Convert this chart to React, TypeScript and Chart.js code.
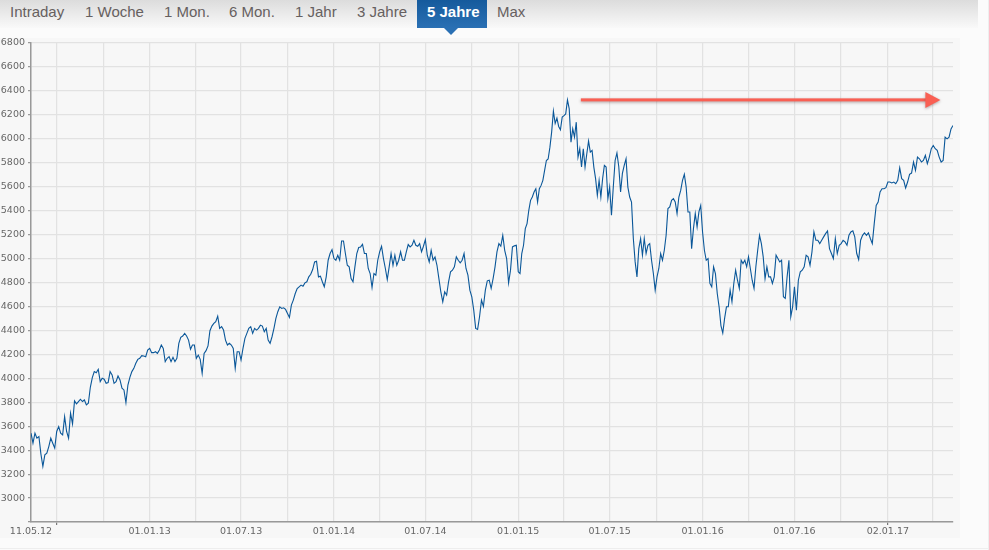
import { useEffect, useRef } from 'react';
import { Chart, registerables } from 'chart.js';

Chart.register(...registerables);

const navItems = ['Intraday', '1 Woche', '1 Mon.', '6 Mon.', '1 Jahr', '3 Jahre', '5 Jahre', 'Max'];
const navLeft = [10, 85, 164, 229, 295, 357, 427, 497];
const activeNav = '5 Jahre';

const startDate = '11.05.12';
const endDate = '11.05.17';
const quarterTicks = [
  '01.07.12', '01.10.12', '01.01.13', '01.04.13', '01.07.13', '01.10.13', '01.01.14', '01.04.14',
  '01.07.14', '01.10.14', '01.01.15', '01.04.15', '01.07.15', '01.10.15', '01.01.16', '01.04.16',
  '01.07.16', '01.10.16', '02.01.17', '01.04.17',
];
const labelledTicks = [
  '11.05.12', '01.01.13', '01.07.13', '01.01.14', '01.07.14', '01.01.15', '01.07.15', '01.01.16',
  '01.07.16', '02.01.17',
];
const markedTicks = ['01.07.12', '02.01.17'];

// index level, one list per half year
const h2012 = [
  3542, 3458, 3542, 3500, 3514, 3369, 3264, 3361, 3375, 3430, 3500, 3458, 3417, 3556, 3597, 3542, 3528, 3680, 3556,
  3500, 3708, 3619, 3811, 3786, 3806, 3825, 3806, 3819, 3778, 3792, 3925, 4006, 4056, 4047, 4075, 3972, 4000, 3992,
  3958, 3964, 4056, 4028, 3958, 3972, 4019, 3986, 3917, 3903, 3797, 3944, 4008, 4056, 4083, 4125, 4158, 4167, 4189,
  4186, 4180, 4236,
];
const h1of2013 = [
  4250, 4214, 4214, 4222, 4208, 4236, 4278, 4250, 4139, 4167, 4181, 4139, 4175, 4139, 4167, 4292, 4342, 4353, 4375,
  4353, 4319, 4242, 4278, 4278, 4167, 4194, 4158, 4042, 4208, 4231, 4270, 4397, 4436, 4458, 4472, 4519, 4417, 4431,
  4403, 4319, 4278, 4292, 4278, 4250, 4083, 4222, 4222,
];
const h2of2013 = [
  4153, 4250, 4333, 4375, 4417, 4431, 4375, 4417, 4403, 4417, 4444, 4436, 4389, 4417, 4319, 4292, 4347, 4417, 4500,
  4556, 4597, 4583, 4589, 4575, 4542, 4508, 4611, 4653, 4708, 4750, 4764, 4778, 4769, 4797, 4806, 4847, 4869, 4908,
  4972, 4978, 4847, 4853, 4806, 4764, 4847, 4986, 5042, 5075,
];
const h1of2014 = [
  5000, 4986, 5028, 4986, 5147, 5147, 5042, 4944, 4931, 4833, 4806, 4931, 5042, 5092, 5097, 5119, 5042, 5042, 4917,
  4875, 4758, 4875, 4861, 4986, 5056, 5103, 5000, 4917, 4825, 4931, 5042, 4944, 5028, 4944, 4986, 5056, 4986, 4986,
  5056, 5117, 5097, 5111, 5153, 5111, 5103, 5125, 5056, 5103,
];
const h2of2014 = [
  5158, 5028, 4972, 5069, 4986, 5014, 4944, 4833, 4722, 4639, 4722, 4694, 4806, 4889, 4903, 4931, 5014, 4986, 4964,
  4986, 5042, 4917, 4861, 4736, 4681, 4569, 4417, 4408, 4514, 4653, 4600, 4736, 4814, 4819, 4750, 4833, 4931, 5056,
  5125, 5103, 5194, 5069, 5000, 4797, 4903, 5097, 5106, 5111,
];
const h1of2015 = [
  4889, 4875, 5042, 5111, 5250, 5292, 5403, 5486, 5514, 5556, 5583, 5472, 5583, 5611, 5653, 5736, 5819, 5831, 5928,
  6056, 6231, 6128, 6172, 6103, 6075, 6181, 6194, 6208, 6325, 6250, 5972, 6083, 6014, 6139, 5847, 5917, 5764, 5917,
  5764, 5875, 5981, 5889, 5903, 5764, 5667, 5528, 5653, 5514, 5667, 5778, 5764, 5500,
];
const h2of2015 = [
  5597, 5361, 5597, 5819, 5881, 5769, 5556, 5711, 5778, 5833, 5597, 5514, 5472, 5167, 4972, 4847, 5083, 5167, 5028,
  5167, 5042, 5111, 5125, 4986, 4875, 4736, 4847, 4917, 5042, 4986, 5069, 5194, 5417, 5431, 5486, 5500, 5472, 5375,
  5514, 5569, 5653, 5703, 5597, 5389, 5389, 5083, 5250, 5375, 5264, 5389, 5444,
];
const h1of2016 = [
  5222, 5069, 4986, 5000, 4792, 4764, 4931, 4875, 4708, 4597, 4440, 4378, 4500, 4597, 4597, 4736, 4639, 4792, 4903,
  4819, 4750, 4986, 4958, 4986, 4931, 5014, 4917, 4819, 4750, 4931, 5069, 5194, 5125, 5014, 4833, 4931, 4847, 4847,
  4792, 4847, 5028, 5000, 4972, 4986, 4681, 4667, 4847, 4986, 4514, 4597,
];
const h2of2016 = [
  4764, 4569, 4819, 4889, 4903, 4931, 5028, 5014, 4944, 5056, 5222, 5153, 5153, 5125, 5153, 5181, 5208, 5231, 5083,
  5042, 5000, 5167, 5042, 5111, 5125, 5153, 5139, 5111, 5194, 5222, 5231, 5181, 5042, 4992, 5153, 5194, 5214, 5194,
  5214, 5167, 5125, 5292, 5444, 5472, 5556, 5583, 5583, 5592,
];
const h1of2017 = [
  5639, 5639, 5631, 5639, 5625, 5653, 5758, 5667, 5653, 5589, 5639, 5703, 5714, 5806, 5736, 5847, 5833, 5806, 5819,
  5861, 5792, 5847, 5917, 5944, 5917, 5903, 5847, 5806, 5819, 6014, 6000, 6014, 6083, 6111,
];

const halfYears = [h2012, h1of2013, h2of2013, h1of2014, h2of2014, h1of2015, h2of2015, h1of2016, h2of2016, h1of2017];
const halfYearStarts = [
  '11.05.12', '01.01.13', '01.07.13', '01.01.14', '01.07.14', '01.01.15', '01.07.15', '01.01.16', '01.07.16',
  '02.01.17', '11.05.17',
];

const arrowFrom = '05.05.15';
const arrowTo = '16.04.17';
const arrowLevel = 6325;

function dayNumber(date: string) {
  const [d, m, y] = date.split('.').map(Number);
  return Date.UTC(2000 + y, m - 1, d) / 86400000;
}

function buildPoints() {
  const points: { x: number; y: number }[] = [];
  halfYears.forEach((values, s) => {
    const from = dayNumber(halfYearStarts[s]);
    const to = dayNumber(halfYearStarts[s + 1]);
    const isLast = s === halfYears.length - 1;
    const parts = isLast ? values.length - 1 : values.length;
    values.forEach((y, i) => points.push({ x: from + (i * (to - from)) / parts, y }));
  });
  return points;
}

const arrowPlugin = {
  id: 'arrow',
  afterDatasetsDraw(chart: any) {
    const { ctx, scales } = chart;
    const x0 = scales.x.getPixelForValue(dayNumber(arrowFrom));
    const x1 = scales.x.getPixelForValue(dayNumber(arrowTo));
    const y = scales.y.getPixelForValue(arrowLevel);
    ctx.save();
    ctx.shadowColor = 'rgba(90,60,60,0.45)';
    ctx.shadowBlur = 3;
    ctx.shadowOffsetY = 1;
    ctx.fillStyle = '#f95f53';
    ctx.fillRect(x0, y - 1.5, x1 - x0 - 14, 3);
    ctx.beginPath();
    ctx.moveTo(x1 - 15, y - 8);
    ctx.lineTo(x1, y);
    ctx.lineTo(x1 - 15, y + 8);
    ctx.closePath();
    ctx.fill();
    ctx.restore();
  },
};

export default function App() {
  const chartRef = useRef<HTMLCanvasElement | null>(null);

  useEffect(() => {
    document.body.style.margin = '0';
    if (!chartRef.current) return;
    const labelled = labelledTicks.map(dayNumber);
    const marked = markedTicks.map(dayNumber);
    const chart = new Chart(chartRef.current, {
      type: 'line',
      data: {
        datasets: [
          {
            data: buildPoints(),
            borderColor: '#0a5799',
            borderWidth: 1.1,
            pointRadius: 0,
            tension: 0,
          },
        ],
      },
      options: {
        animation: false,
        responsive: false,
        devicePixelRatio: 1,
        layout: { padding: { top: 43, right: 36 } },
        plugins: { legend: { display: false }, tooltip: { enabled: false } },
        scales: {
          x: {
            type: 'linear',
            min: dayNumber(startDate),
            max: dayNumber(endDate),
            afterFit: (scale: any) => {
              scale.height = 28;
            },
            afterBuildTicks: (scale: any) => {
              scale.ticks = [startDate, ...quarterTicks].map((d) => ({ value: dayNumber(d) }));
            },
            border: { color: '#999999', width: 1.5 },
            grid: {
              color: '#e2e2e2',
              lineWidth: 1.2,
              tickLength: 3,
              tickColor: (c: any) => (marked.includes(c.tick?.value) ? '#777777' : 'transparent'),
            },
            ticks: {
              autoSkip: false,
              maxRotation: 0,
              padding: 1,
              color: '#666666',
              font: { family: '"DejaVu Sans"', size: 9.5 },
              callback: (v: any) => {
                const i = labelled.indexOf(Number(v));
                return i >= 0 ? labelledTicks[i] : '';
              },
            },
          },
          y: {
            min: 2800,
            max: 6800,
            afterFit: (scale: any) => {
              scale.width = 31;
            },
            border: { color: '#999999', width: 1.5 },
            grid: { color: '#e2e2e2', lineWidth: 1.2, tickLength: 3, tickColor: '#999999' },
            ticks: {
              stepSize: 200,
              padding: 3,
              color: '#666666',
              font: { family: '"DejaVu Sans"', size: 9.5 },
              callback: (v: any) => (Number(v) === 2800 ? '' : String(v)),
            },
          },
        },
      },
      plugins: [arrowPlugin],
    } as any);
    return () => chart.destroy();
  }, []);

  return (
    <div style={{ position: 'absolute', left: 0, top: 0, width: 989, height: 550, overflow: 'hidden', background: '#fbfbfb', fontFamily: '"Liberation Sans", sans-serif' }}>
      <div style={{ position: 'absolute', left: 0, top: 38, width: 960, height: 500, background: '#f7f7f7' }} />
      <div style={{ position: 'absolute', left: 0, top: 0, width: 978, height: 28, background: 'linear-gradient(#dcdcdc, #f9f9f9)' }} />
      <div style={{ position: 'absolute', left: 988, top: 0, width: 1, height: 550, background: '#eeeeee' }} />
      <div style={{ position: 'absolute', left: 0, top: 548, width: 989, height: 1, background: '#eeeeee' }} />
      <div style={{ position: 'absolute', left: 417, top: 0, width: 70, height: 28, background: 'linear-gradient(#155a9c, #2a70b4)' }} />
      <div style={{ position: 'absolute', left: 444, top: 28, width: 0, height: 0, borderLeft: '7px solid transparent', borderRight: '7px solid transparent', borderTop: '7px solid #2a70b4' }} />
      {navItems.map((item, i) => (
        <div
          key={item}
          style={{
            position: 'absolute',
            left: navLeft[i],
            top: 3,
            fontSize: 15,
            lineHeight: '18px',
            whiteSpace: 'nowrap',
            color: item === activeNav ? '#ffffff' : '#666060',
            fontWeight: item === activeNav ? 700 : 400,
          }}
        >
          {item}
        </div>
      ))}
      <canvas ref={chartRef} width={989} height={550} style={{ position: 'absolute', left: 0, top: 0, display: 'block' }} />
    </div>
  );
}
